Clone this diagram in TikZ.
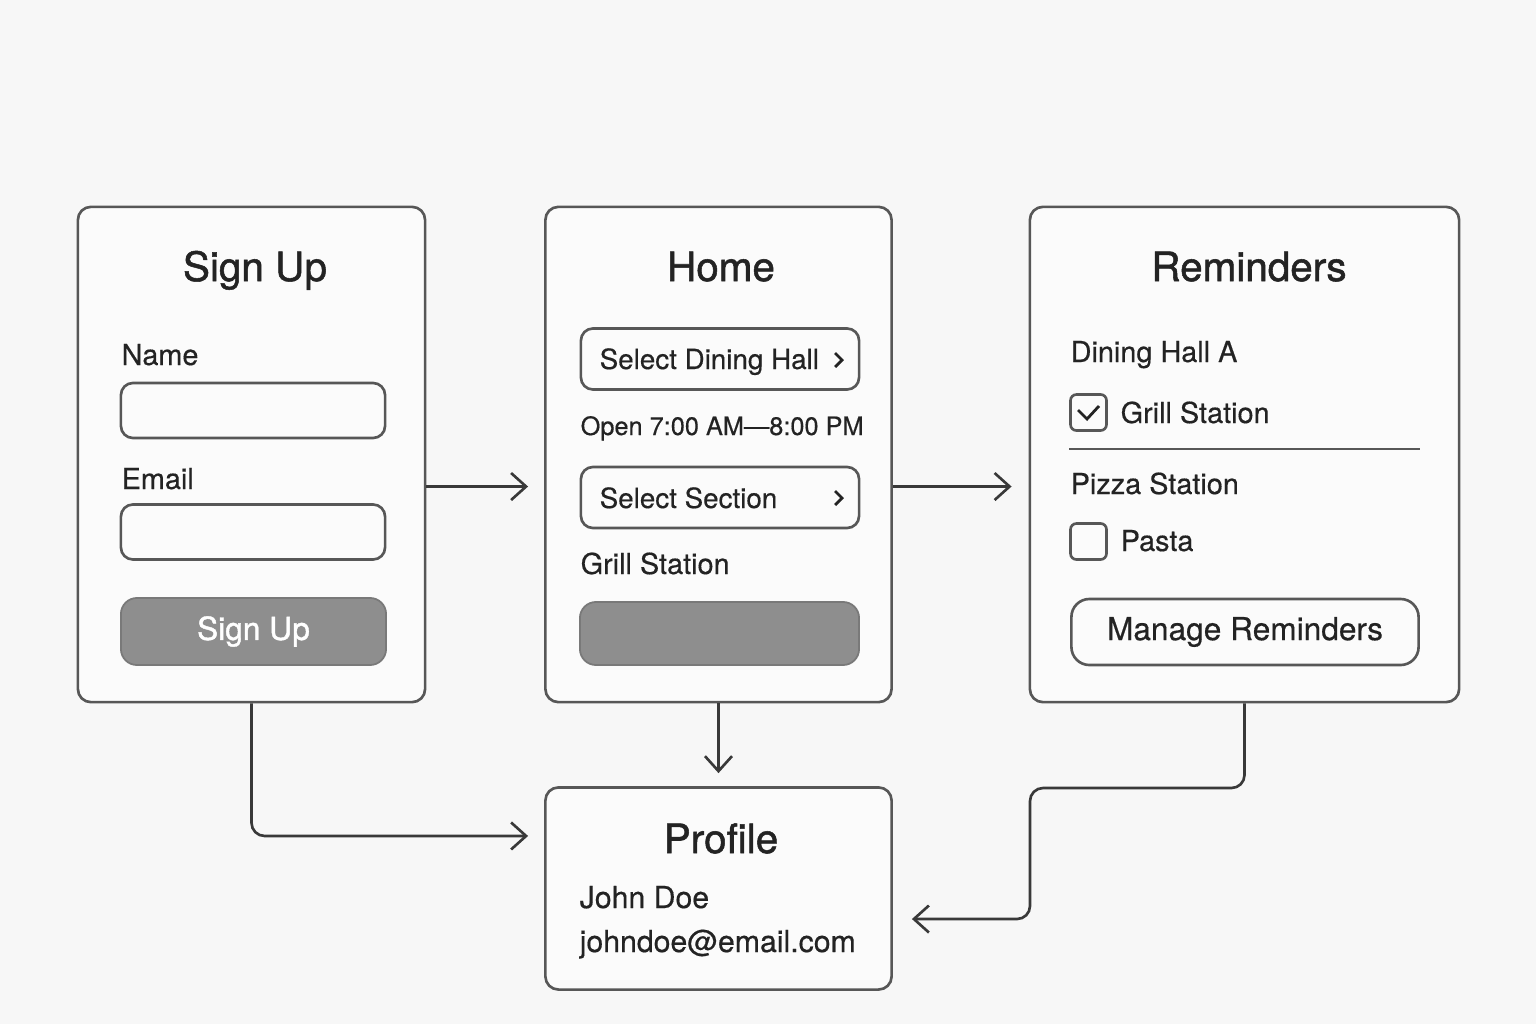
\documentclass[tikz,border=0pt]{standalone}
\usepackage{fontspec}
\setmainfont{TeX Gyre Heros}[FakeBold=0.45]
\newfontfamily\headfont{TeX Gyre Heros}[FakeBold=1.3]
\usetikzlibrary{arrows.meta}
\definecolor{bgc}{HTML}{F7F7F7}
\definecolor{edge}{HTML}{575757}
\definecolor{ink}{HTML}{232323}
\definecolor{btn}{HTML}{8E8E8E}

\begin{document}
\begin{tikzpicture}
  [x=0.01cm,y=-0.01cm,every node/.style={text=ink,inner sep=0pt}]
  \tikzstyle{screen} = [draw=edge,line width=0.75pt,rounded corners=0.13cm,fill=white!50!bgc]
  \tikzstyle{field} = [draw=edge,line width=0.75pt,rounded corners=0.12cm]
  \tikzstyle{grey} = [draw=btn!85!black,line width=0.5pt,rounded corners=0.16cm,fill=btn]
  \tikzstyle{ttl} = [anchor=base,font=\headfont\fontsize{11.5}{14}\selectfont]
  \tikzstyle{lbl} = [anchor=base west,font=\fontsize{8.2}{10}\selectfont]
  \tikzstyle{flow} = [draw=ink!90,line width=0.75pt,rounded corners=0.13cm,
                      -{Straight Barb[length=0.15cm,width=0.27cm]}]
  \fill[bgc] (0,0) rectangle (1536,1024);
  \useasboundingbox (0,0) rectangle (1536,1024);

  % screens
  \node[screen,minimum width=3.47cm,minimum height=4.95cm] (signup) at (251.5,454.5) {};
  \node[screen,minimum width=3.46cm,minimum height=4.95cm] (home) at (718.5,454.5) {};
  \node[screen,minimum width=4.29cm,minimum height=4.95cm] (remind) at (1244.5,454.5) {};
  \node[screen,minimum width=3.46cm,minimum height=2.02cm] (profile) at (718.5,888.5) {};

  \foreach \nm/\x/\y/\txt in {tsign/255/281/Sign Up,thome/721/281/Home,
                             trem/1249/281/Reminders,tprof/721/853/Profile}
    \node[ttl] (\nm) at (\x,\y) {\txt};

  % sign up
  \node[field,minimum width=2.64cm,minimum height=0.55cm] (fname) at (253,410.5) {};
  \node[field,minimum width=2.64cm,minimum height=0.55cm] (fmail) at (253,532) {};
  \node[grey,minimum width=2.65cm,minimum height=0.67cm,text=white,
        font=\headfont\fontsize{9}{11}\selectfont] (bsign) at (253.5,631.5) {Sign Up};

  % home
  \node[field,minimum width=2.78cm,minimum height=0.61cm] (bhall) at (720,359) {};
  \node[field,minimum width=2.78cm,minimum height=0.61cm] (bsect) at (720,497.5) {};
  \node[grey,minimum width=2.79cm,minimum height=0.63cm] (bgrill) at (719.5,633.5) {};
  \draw[ink,line width=0.8pt] (835,353) -- (842,360) -- (835,367);
  \draw[ink,line width=0.8pt] (835,491) -- (842,498) -- (835,505);
  \node[lbl,font=\fontsize{7.9}{10}\selectfont] (lhall) at (599,369) {Select Dining Hall};
  \node[lbl,font=\fontsize{7.9}{10}\selectfont] (lsect) at (599,508) {Select Section};
  \node[lbl,font=\fontsize{7.2}{9}\selectfont] (lopen) at (580,435) {Open 7:00 AM—8:00 PM};

  % reminders
  \node[field,rounded corners=0.06cm,minimum size=0.36cm] (cgrill) at (1088.5,412.5) {};
  \node[field,rounded corners=0.06cm,minimum size=0.36cm] (cpasta) at (1088.5,541.5) {};
  \draw[ink,line width=0.8pt] (1078,410) -- (1087,419) -- (1099,406);
  \draw[edge,line width=0.75pt] (1069,449) -- (1420,449);
  \node[field,rounded corners=0.18cm,minimum width=3.47cm,minimum height=0.66cm,
        font=\fontsize{9}{11}\selectfont] (bmanage) at (1245,632) {Manage Reminders};

  \foreach \nm/\x/\y/\txt in {lname/121/365/Name,lmail/121/489/Email,
                             lgrill/580/574/Grill Station,ldin/1070/362/Dining Hall A,
                             lgst/1120/423/Grill Station,lpiz/1070/494/Pizza Station,
                             lpas/1120/551/Pasta}
    \node[lbl] (\nm) at (\x,\y) {\txt};
  \node[lbl,font=\fontsize{8.6}{10}\selectfont] (ljohn) at (579,908) {John Doe};
  \node[lbl,font=\fontsize{8.6}{10}\selectfont] (lmail2) at (579,952) {johndoe@email.com};

  % connectors
  \coordinate (bend) at (1030,788);
  \draw[flow,shorten >=0.16cm] ([yshift=-0.32cm]signup.east) -- ([yshift=-0.32cm]home.west);
  \draw[flow,shorten >=0.17cm] ([yshift=-0.32cm]home.east) -- ([yshift=-0.32cm]remind.west);
  \draw[flow,shorten >=0.13cm] (home.south) -- (profile.north);
  \draw[flow,shorten >=0.16cm] (signup.south) |- ([yshift=0.525cm]profile.west);
  \draw[flow,shorten >=0.19cm] (remind.south) |- (bend) |- ([yshift=-0.305cm]profile.east);
\end{tikzpicture}
\end{document}
